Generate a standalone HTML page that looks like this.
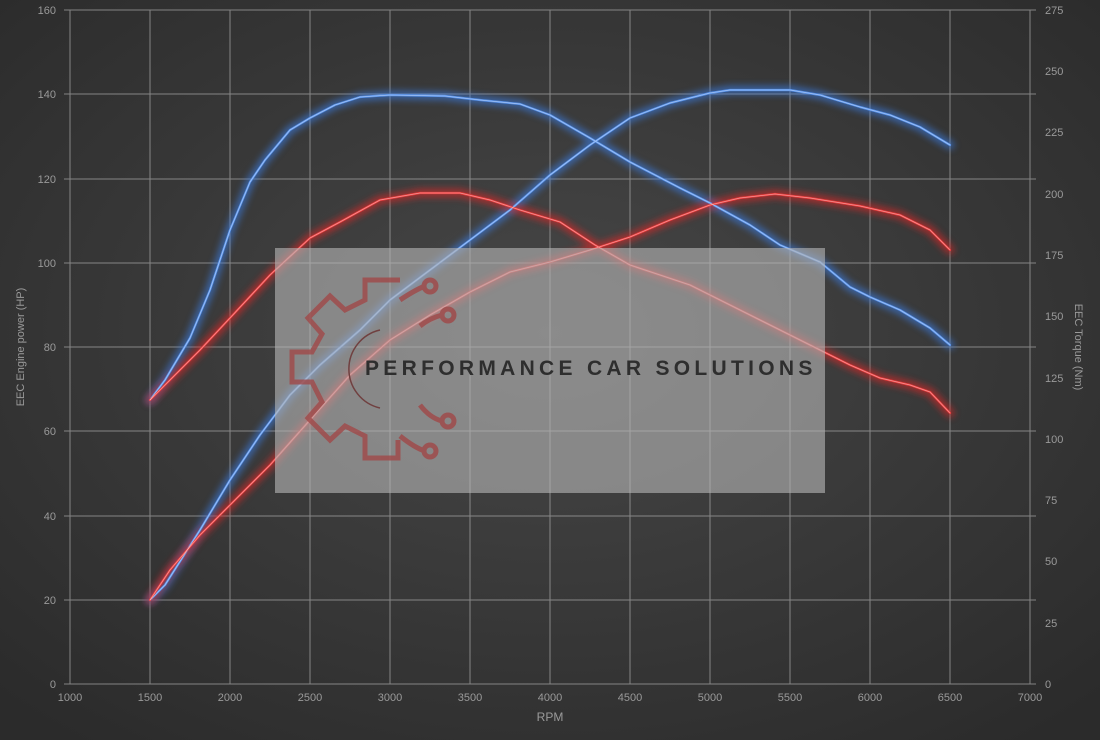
<!DOCTYPE html>
<html><head><meta charset="utf-8"><style>
html,body{margin:0;padding:0;background:#333;}
svg{display:block;font-family:"Liberation Sans",sans-serif;}
</style></head><body>
<svg width="1100" height="740" viewBox="0 0 1100 740" xmlns="http://www.w3.org/2000/svg">
<defs>
<radialGradient id="bg" cx="50%" cy="45%" r="70%">
<stop offset="0" stop-color="#474747"/><stop offset="1" stop-color="#2b2b2b"/>
</radialGradient>
<filter id="gl" x="-10%" y="-10%" width="120%" height="120%"><feGaussianBlur stdDeviation="3.5"/></filter>
</defs>
<rect width="1100" height="740" fill="url(#bg)"/>
<g stroke="#a8a8a8" stroke-width="1" opacity="0.7">
<line x1="70" y1="10" x2="70" y2="684"/><line x1="150" y1="10" x2="150" y2="684"/><line x1="230" y1="10" x2="230" y2="684"/><line x1="310" y1="10" x2="310" y2="684"/><line x1="390" y1="10" x2="390" y2="684"/><line x1="470" y1="10" x2="470" y2="684"/><line x1="550" y1="10" x2="550" y2="684"/><line x1="630" y1="10" x2="630" y2="684"/><line x1="710" y1="10" x2="710" y2="684"/><line x1="790" y1="10" x2="790" y2="684"/><line x1="870" y1="10" x2="870" y2="684"/><line x1="950" y1="10" x2="950" y2="684"/><line x1="1030" y1="10" x2="1030" y2="684"/>
<line x1="64" y1="10" x2="1036" y2="10"/><line x1="64" y1="94" x2="1036" y2="94"/><line x1="64" y1="179" x2="1036" y2="179"/><line x1="64" y1="263" x2="1036" y2="263"/><line x1="64" y1="347" x2="1036" y2="347"/><line x1="64" y1="431" x2="1036" y2="431"/><line x1="64" y1="516" x2="1036" y2="516"/><line x1="64" y1="600" x2="1036" y2="600"/><line x1="64" y1="684" x2="1036" y2="684"/>
</g>
<g fill="#9a9a9a" font-size="11" text-anchor="end">
<text x="56" y="14">160</text><text x="56" y="98">140</text><text x="56" y="183">120</text><text x="56" y="267">100</text><text x="56" y="351">80</text><text x="56" y="435">60</text><text x="56" y="520">40</text><text x="56" y="604">20</text><text x="56" y="688">0</text>
</g>
<g fill="#9a9a9a" font-size="11" text-anchor="start">
<text x="1045" y="14">275</text><text x="1045" y="75">250</text><text x="1045" y="136">225</text><text x="1045" y="198">200</text><text x="1045" y="259">175</text><text x="1045" y="320">150</text><text x="1045" y="382">125</text><text x="1045" y="443">100</text><text x="1045" y="504">75</text><text x="1045" y="565">50</text><text x="1045" y="627">25</text><text x="1045" y="688">0</text>
</g>
<g fill="#9a9a9a" font-size="11" text-anchor="middle">
<text x="70" y="701">1000</text><text x="150" y="701">1500</text><text x="230" y="701">2000</text><text x="310" y="701">2500</text><text x="390" y="701">3000</text><text x="470" y="701">3500</text><text x="550" y="701">4000</text><text x="630" y="701">4500</text><text x="710" y="701">5000</text><text x="790" y="701">5500</text><text x="870" y="701">6000</text><text x="950" y="701">6500</text><text x="1030" y="701">7000</text>
<text x="550" y="721" font-size="12">RPM</text>
<text transform="translate(24,347) rotate(-90)" font-size="11">EEC Engine power (HP)</text>
<text transform="translate(1075,347) rotate(90)" font-size="11">EEC Torque (Nm)</text>
</g>
<g fill="none" stroke-linejoin="round" stroke-linecap="round">
<g stroke="#3a7be0" stroke-width="9" opacity="0.6" filter="url(#gl)">
<polyline points="150,400 165,380 190,338 210,290 230,230 250,182 265,160 290,130 310,118 335,105 360,97 390,95 445,96 480,100 520,104 550,115 590,138 630,162 680,188 710,203 750,225 780,245 820,262 850,287 870,297 900,310 930,328 950,345"/>
<polyline points="150,600 165,585 200,530 230,480 260,435 290,395 320,365 360,330 390,300 430,270 470,240 510,210 550,175 590,145 630,118 670,103 710,93 730,90 790,90 820,95 860,107 890,115 920,127 950,145"/>
</g>
<g stroke="#e02828" stroke-width="9" opacity="0.6" filter="url(#gl)">
<polyline points="150,400 165,385 200,350 230,318 270,275 310,238 340,222 380,200 420,193 460,193 490,200 520,210 560,222 595,245 630,265 660,275 690,285 720,300 750,315 790,335 820,350 850,365 880,378 910,385 930,392 950,413"/>
<polyline points="150,600 170,570 200,535 230,505 270,465 310,420 350,375 390,340 430,315 470,292 510,272 550,262 590,250 630,237 670,220 710,205 740,198 775,194 810,198 860,206 900,215 930,230 950,250"/>
</g>
<g stroke="#5590e8" stroke-width="2.2">
<polyline points="150,400 165,380 190,338 210,290 230,230 250,182 265,160 290,130 310,118 335,105 360,97 390,95 445,96 480,100 520,104 550,115 590,138 630,162 680,188 710,203 750,225 780,245 820,262 850,287 870,297 900,310 930,328 950,345"/>
<polyline points="150,600 165,585 200,530 230,480 260,435 290,395 320,365 360,330 390,300 430,270 470,240 510,210 550,175 590,145 630,118 670,103 710,93 730,90 790,90 820,95 860,107 890,115 920,127 950,145"/>
</g>
<g stroke="#e83a3a" stroke-width="2.2">
<polyline points="150,400 165,385 200,350 230,318 270,275 310,238 340,222 380,200 420,193 460,193 490,200 520,210 560,222 595,245 630,265 660,275 690,285 720,300 750,315 790,335 820,350 850,365 880,378 910,385 930,392 950,413"/>
<polyline points="150,600 170,570 200,535 230,505 270,465 310,420 350,375 390,340 430,315 470,292 510,272 550,262 590,250 630,237 670,220 710,205 740,198 775,194 810,198 860,206 900,215 930,230 950,250"/>
</g>
<g stroke="#d8e6ff" stroke-width="0.8" opacity="0.6">
<polyline points="150,400 165,380 190,338 210,290 230,230 250,182 265,160 290,130 310,118 335,105 360,97 390,95 445,96 480,100 520,104 550,115 590,138 630,162 680,188 710,203 750,225 780,245 820,262 850,287 870,297 900,310 930,328 950,345"/>
<polyline points="150,600 165,585 200,530 230,480 260,435 290,395 320,365 360,330 390,300 430,270 470,240 510,210 550,175 590,145 630,118 670,103 710,93 730,90 790,90 820,95 860,107 890,115 920,127 950,145"/>
</g>
<g stroke="#ffd0d0" stroke-width="0.8" opacity="0.6">
<polyline points="150,400 165,385 200,350 230,318 270,275 310,238 340,222 380,200 420,193 460,193 490,200 520,210 560,222 595,245 630,265 660,275 690,285 720,300 750,315 790,335 820,350 850,365 880,378 910,385 930,392 950,413"/>
<polyline points="150,600 170,570 200,535 230,505 270,465 310,420 350,375 390,340 430,315 470,292 510,272 550,262 590,250 630,237 670,220 710,205 740,198 775,194 810,198 860,206 900,215 930,230 950,250"/>
</g>
</g>
<rect x="275" y="248" width="550" height="245" fill="#b4b4b4" opacity="0.62"/>
<g fill="none" stroke="#a04848" stroke-width="5" opacity="0.8">
<path d="M400,280 L365,280 L365,300 L345,310 L330,296 L308,318 L322,334 L312,352 L292,352 L292,382 L312,382 L322,402 L308,418 L330,440 L345,426 L365,436 L365,458 L398,458 L398,440"/>
<path d="M400,300 Q415,290 425,286"/><circle cx="430" cy="286" r="6"/>
<path d="M420,326 Q430,318 442,315"/><circle cx="448" cy="315" r="6"/>
<path d="M420,405 Q430,418 442,421"/><circle cx="448" cy="421" r="6"/>
<path d="M400,436 Q415,448 425,451"/><circle cx="430" cy="451" r="6"/>
</g>
<path d="M380,330 A40,40 0 0 0 380,408" fill="none" stroke="#704040" stroke-width="1.5"/>
<text x="365" y="375" font-size="21" font-weight="bold" fill="#2e2e2e" letter-spacing="2.6" textLength="450">PERFORMANCE CAR SOLUTIONS</text>
</svg>
</body></html>
